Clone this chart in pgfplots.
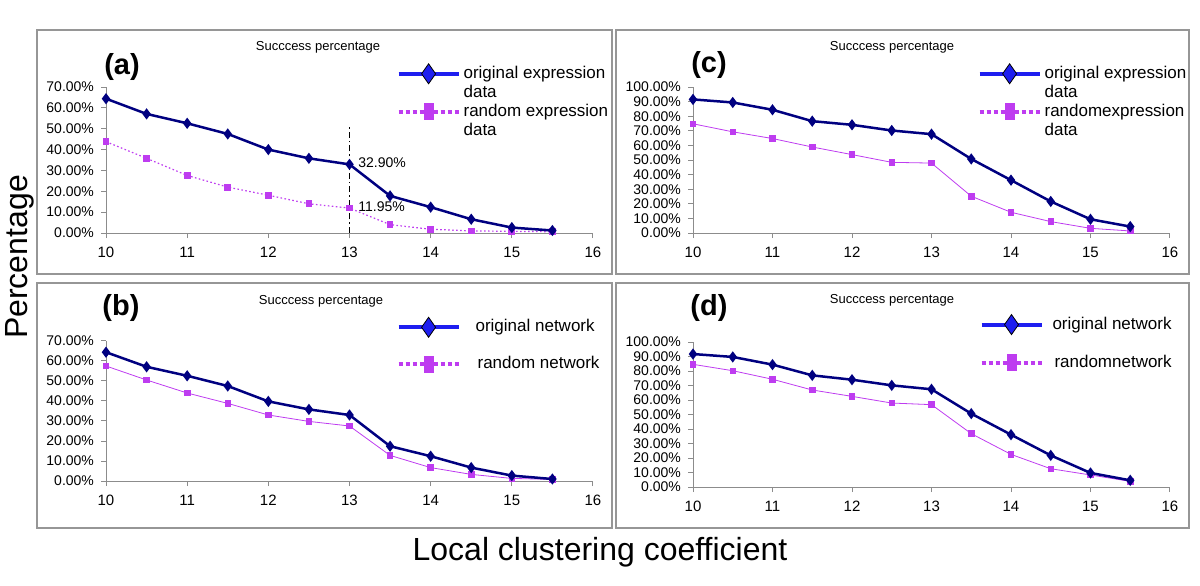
\documentclass[border=0pt]{standalone}
\usepackage{fontspec}
\setmainfont{Liberation Sans}
\usepackage{pgfplots}
\pgfplotsset{compat=1.18}

\definecolor{navy}{RGB}{0,0,128}
\definecolor{legblue}{RGB}{30,30,240}
\definecolor{viol}{RGB}{190,60,240}
\definecolor{axgray}{RGB}{140,140,140}
\definecolor{framegray}{RGB}{150,150,150}

\pgfplotsset{
  panel/.style={
    scale only axis, anchor=south west,
    xmin=10, xmax=16, ymin=0,
    axis lines*=left,
    axis line style={axgray, line width=0.5pt},
    xtick={10,...,16},
    tick style={axgray, line width=0.5pt},
    tick align=outside,
    major tick length=2.5pt,
    xticklabel style={font=\fontsize{7.5}{8}\selectfont, text=black, yshift=-1pt},
    yticklabel style={font=\fontsize{7}{8}\selectfont, text=black},
    yticklabel={\pgfmathprintnumber[fixed,fixed zerofill,precision=2]{\tick}\%},
    /pgf/number format/assume math mode=true,
    clip=false,
    legend style={draw=none, fill=none, anchor=north west, inner sep=0pt,
      font=\fontsize{8.5}{9}\selectfont, row sep=0pt,
      nodes={inner sep=0.5pt, text height=6.3pt, text depth=1.7pt, text=black}},
    legend cell align=left,
  },
  orig/.style={navy, line width=1.25pt, mark=diamond*, mark size=1.8pt, mark options={solid, fill=navy}},
  rand/.style={viol, line width=0.4pt, mark=square*, mark size=1.4pt, mark options={solid, fill=viol}},
  origleg/.style={legend image code/.code={
      \path[draw=none, fill=none] (0pt,-2pt) rectangle (32pt,2pt);
      \draw[overlay, legblue, line width=2pt] (0pt,0pt) -- (30pt,0pt);
      \draw[overlay, black, fill=legblue, line width=0.4pt] (15pt,5pt) -- (18.5pt,0pt) -- (15pt,-5pt) -- (11.5pt,0pt) -- cycle;}},
  randleg/.style={legend image code/.code={
      \path[draw=none, fill=none] (0pt,-2pt) rectangle (32pt,2pt);
      \draw[overlay, viol, line width=2pt, dash pattern=on 2pt off 1.5pt] (0pt,0pt) -- (30pt,0pt);
      \fill[overlay, viol] (12.75pt,-4pt) rectangle (17.25pt,4pt);}},
}

\begin{document}
\begin{tikzpicture}
\path[use as bounding box] (0pt,0pt) rectangle (600pt,292.5pt);

% panel frames
\draw[framegray, line width=0.6pt] (18.5pt,155.5pt) rectangle (306pt,277.5pt);
\draw[framegray, line width=0.6pt] (308pt,155.5pt) rectangle (594.5pt,277.5pt);
\draw[framegray, line width=0.6pt] (18.5pt,28.5pt) rectangle (306pt,151pt);
\draw[framegray, line width=0.6pt] (308pt,28.5pt) rectangle (594.5pt,151pt);

% (a)
\begin{axis}[panel, at={(53pt,176pt)}, width=243.5pt, height=73pt, ymax=70, ytick={0,10,...,70},
  legend style={at={(0.6,1.155)}, row sep=0.5pt}]
\addplot[rand, dash pattern=on 0.8pt off 1.2pt, line width=0.6pt, forget plot] coordinates {(10,43.8)(10.5,35.8)(11,27.6)(11.5,22.0)(12,18.1)(12.5,14.0)(13,11.95)(13.5,4.0)(14,1.8)(14.5,1.0)(15,0.8)(15.5,0.6)};
\addplot[orig, forget plot] coordinates {(10,64.4)(10.5,57.1)(11,52.6)(11.5,47.5)(12,40.0)(12.5,35.8)(13,32.9)(13.5,17.8)(14,12.4)(14.5,6.6)(15,2.6)(15.5,1.2)};
\addplot[black, line width=0.8pt, dash pattern=on 3pt off 1.5pt on 0.8pt off 1.5pt, forget plot] coordinates {(13,0)(13,52)};
\node[anchor=west, font=\fontsize{7}{8}\selectfont, inner sep=1pt] at (axis cs:13.08,33.6) {32.90\%};
\node[anchor=west, font=\fontsize{7}{8}\selectfont, inner sep=1pt] at (axis cs:13.08,12.5) {11.95\%};
\addlegendimage{origleg}\addlegendentry{original expression}
\addlegendimage{empty legend}\addlegendentry{data}
\addlegendimage{randleg}\addlegendentry{random expression}
\addlegendimage{empty legend}\addlegendentry{data}
\end{axis}

% (c)
\begin{axis}[panel, at={(346.5pt,176pt)}, width=238.5pt, height=73pt, ymax=100, ytick={0,10,...,100},
  legend style={at={(0.6,1.155)}, row sep=0.5pt}]
\addplot[rand, forget plot] coordinates {(10,74.8)(10.5,69.3)(11,64.7)(11.5,58.9)(12,53.7)(12.5,48.4)(13,47.9)(13.5,25.2)(14,14.2)(14.5,7.8)(15,3.2)(15.5,1.4)};
\addplot[orig, forget plot] coordinates {(10,91.5)(10.5,89.4)(11,84.4)(11.5,76.6)(12,74.1)(12.5,70.2)(13,67.7)(13.5,50.7)(14,36.2)(14.5,21.6)(15,9.4)(15.5,4.4)};
\addlegendimage{origleg}\addlegendentry{original expression}
\addlegendimage{empty legend}\addlegendentry{data}
\addlegendimage{randleg}\addlegendentry{randomexpression}
\addlegendimage{empty legend}\addlegendentry{data}
\end{axis}

% (b)
\begin{axis}[panel, at={(53pt,52pt)}, width=243.5pt, height=70pt, ymax=70, ytick={0,10,...,70},
  legend style={at={(0.6,1.165)}, row sep=9.5pt}]
\addplot[rand, forget plot] coordinates {(10,57.5)(10.5,50.5)(11,44.0)(11.5,38.8)(12,33.0)(12.5,29.8)(13,27.5)(13.5,12.8)(14,6.7)(14.5,3.3)(15,1.3)(15.5,0.8)};
\addplot[orig, forget plot] coordinates {(10,64.4)(10.5,57.1)(11,52.6)(11.5,47.5)(12,39.8)(12.5,35.8)(13,33.0)(13.5,17.4)(14,12.4)(14.5,6.7)(15,2.7)(15.5,1.0)};
\addlegendimage{origleg}\addlegendentry{\hspace{6pt}original network}
\addlegendimage{randleg}\addlegendentry{\hspace{7pt}random network}
\end{axis}

% (d)
\begin{axis}[panel, at={(346.5pt,49pt)}, width=238.5pt, height=72.5pt, ymax=100, ytick={0,10,...,100},
  legend style={at={(0.604,1.185)}, row sep=10pt}]
\addplot[rand, forget plot] coordinates {(10,84.6)(10.5,80.2)(11,74.3)(11.5,66.9)(12,62.5)(12.5,57.9)(13,56.8)(13.5,36.8)(14,22.5)(14.5,12.6)(15,8.3)(15.5,3.9)};
\addplot[orig, forget plot] coordinates {(10,91.7)(10.5,89.7)(11,84.4)(11.5,77.0)(12,74.0)(12.5,70.1)(13,67.4)(13.5,50.6)(14,36.1)(14.5,21.8)(15,9.7)(15.5,4.6)};
\addlegendimage{origleg}\addlegendentry{\hspace{3pt}original network}
\addlegendimage{randleg}\addlegendentry{\hspace{4pt}randomnetwork}
\end{axis}

% titles and panel labels
\node[font=\fontsize{6.5}{7}\selectfont] at (159pt,269pt) {Succcess percentage};
\node[font=\fontsize{6.5}{7}\selectfont] at (446pt,269pt) {Succcess percentage};
\node[font=\fontsize{6.5}{7}\selectfont] at (160.5pt,142pt) {Succcess percentage};
\node[font=\fontsize{6.5}{7}\selectfont] at (446pt,142.5pt) {Succcess percentage};
\node[font=\fontsize{14.5}{15}\selectfont\bfseries] at (61pt,259pt) {(a)};
\node[font=\fontsize{14.5}{15}\selectfont\bfseries] at (354.5pt,260pt) {(c)};
\node[font=\fontsize{14.5}{15}\selectfont\bfseries] at (60.5pt,138.5pt) {(b)};
\node[font=\fontsize{14.5}{15}\selectfont\bfseries] at (354.5pt,138.5pt) {(d)};

% axis titles
\node[rotate=90, font=\fontsize{16}{17}\selectfont] at (10pt,164pt) {Percentage};
\node[font=\fontsize{16}{17}\selectfont] at (300pt,16.5pt) {Local clustering coefficient};
\end{tikzpicture}
\end{document}
